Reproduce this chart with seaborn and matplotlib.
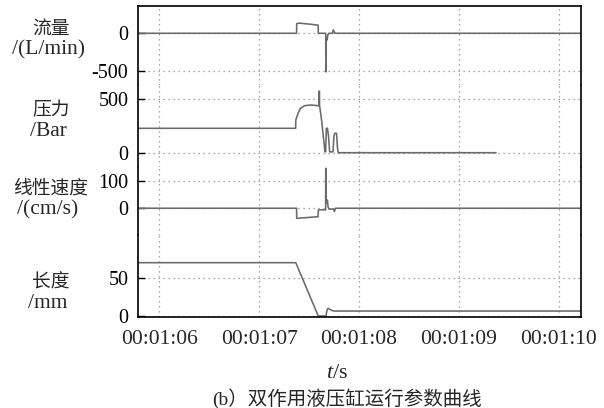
import matplotlib
matplotlib.use("Agg")
import matplotlib.pyplot as plt
import pandas as pd
import seaborn as sns

# Time axis in seconds from 00:00:00
x_ticks = [66, 67, 68, 69, 70]
x_ticklabels = ["00:01:06", "00:01:07", "00:01:08", "00:01:09", "00:01:10"]
x_range = [65.787, 70.220]

# Flow, L/min
flow_t = [65.787, 67.375, 67.376, 67.40, 67.50, 67.591, 67.592, 67.667, 67.668,
          67.671, 67.672, 67.680, 67.688, 67.700, 67.735, 67.743, 67.752, 67.760, 70.220]
flow_v = [0, 0, 128, 135, 122, 108, 0, 0, -510,
          -510, -60, -90, -20, 0, 0, 45, 20, 0, 0]

# Pressure, bar
pres_t = [65.787, 67.366, 67.367, 67.390, 67.414, 67.457, 67.524, 67.580, 67.600,
          67.601, 67.604, 67.605, 67.626, 67.659, 67.666, 67.673, 67.684, 67.695,
          67.706, 67.740, 67.748, 67.757, 67.775, 67.784, 67.792, 69.372]
pres_v = [227, 227, 304, 367, 413, 438, 444, 438, 436,
          574, 574, 440, 300, 8, 8, 227, 227, 150,
          8, 8, 150, 181, 181, 50, 0, 0]

# Linear velocity, cm/s
vel_t = [65.787, 67.375, 67.376, 67.590, 67.593, 67.666, 67.667, 67.670, 67.671,
         67.684, 67.690, 67.700, 67.745, 67.753, 67.765, 70.220]
vel_v = [0, 0, -37, -31, -6, -6, 146, 146, 20,
         30, 5, -3, -3, -12, 0, 0]

# Stroke length, mm
len_t = [65.787, 67.367, 67.592, 67.669, 67.680, 67.690, 67.705, 67.743, 70.220]
len_v = [70.7, 70.7, 0, 0, 8, 10.2, 9, 6.6, 6.6]

panels = [
    dict(t=flow_t, v=flow_v, ylim=(-686, 362), ticks=[0, -500], labels=["0", "-500"],
         title="流量", unit="/(L/min)", ty=28, uy=50),
    dict(t=pres_t, v=pres_v, ylim=(-133, 630), ticks=[500, 0], labels=["500", "0"],
         title="压力", unit="/Bar", ty=110, uy=131),
    dict(t=vel_t, v=vel_v, ylim=(-98, 151), ticks=[100, 0], labels=["100", "0"],
         title="线性速度", unit="/(cm/s)", ty=188, uy=210),
    dict(t=len_t, v=len_v, ylim=(-1.3, 107.4), ticks=[0, 50], labels=["0", "50"],
         title="长度", unit="/mm", ty=282, uy=303),
]

sns.set_style("white")
plt.rcParams["font.family"] = ["Liberation Serif", "Noto Sans CJK SC"]
plt.rcParams["mathtext.fontset"] = "custom"
plt.rcParams["mathtext.it"] = "Liberation Serif:italic"
plt.rcParams["mathtext.rm"] = "Liberation Serif"

W, H = 604, 408
fig = plt.figure(figsize=(W / 100, H / 100), dpi=100)
gs = fig.add_gridspec(4, 1, left=138 / W, right=580.7 / W, top=1 - 6 / H,
                      bottom=1 - 317 / H, hspace=0, height_ratios=[79, 82, 68, 82])

line_color = "#6a6a6a"
grid_color = "#8e8e8e"
axes = []
for i, p in enumerate(panels):
    ax = fig.add_subplot(gs[i])
    axes.append(ax)
    df = pd.DataFrame({"t": p["t"], "v": p["v"]})
    sns.lineplot(data=df, x="t", y="v", ax=ax, estimator=None, sort=False,
                 color=line_color, linewidth=1.15, legend=False)
    ax.set_xlim(*x_range)
    ax.set_ylim(*p["ylim"])
    ax.set_xlabel("")
    ax.set_ylabel("")
    ax.set_xticks(x_ticks)
    ax.set_xticklabels(x_ticklabels)
    ax.set_yticks(p["ticks"])
    ax.set_yticklabels(p["labels"])
    ax.set_axisbelow(True)
    ax.grid(True, linestyle=(0, (1, 3)), color=grid_color, linewidth=0.9)
    for side in ["left", "right", "top", "bottom"]:
        ax.spines[side].set_color("black")
        ax.spines[side].set_linewidth(1.2)
    ax.spines["top"].set_visible(i == 0)
    ax.spines["bottom"].set_visible(i == len(panels) - 1)
    ax.tick_params(axis="y", direction="in", length=5, width=1, pad=7,
                   labelsize=14.5, left=True, colors="black")
    ax.tick_params(axis="x", length=0, pad=9, labelsize=15.5,
                   labelbottom=(i == len(panels) - 1))

    fig.text(51 / W, 1 - p["ty"] / H, p["title"], ha="center", va="center",
             fontsize=13.5, family=["Noto Sans CJK SC"])
    fig.text(48 / W, 1 - p["uy"] / H, p["unit"], ha="center", va="center",
             fontsize=15.5)

fig.text(337 / W, 1 - 373 / H, "$t$/s", ha="center", va="center", fontsize=16)
fig.text(347 / W, 1 - 399 / H, "(b）双作用液压缸运行参数曲线", ha="center",
         va="center", fontsize=14)

fig.savefig("out.png", dpi=100, facecolor="white")
